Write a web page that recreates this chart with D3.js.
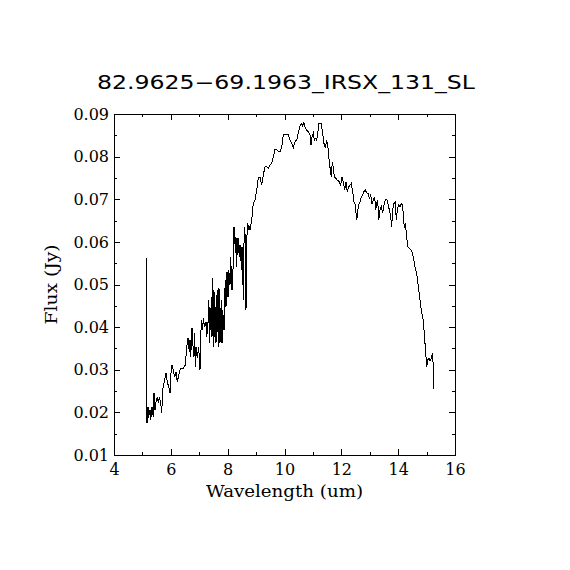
<!DOCTYPE html>
<html>
<head>
<meta charset="utf-8">
<script src="https://cdn.jsdelivr.net/npm/d3@7"></script>
<style>
  body { margin: 0; background: #fff; }
</style>
</head>
<body>
<script>

let wavelength = [
  5.144, 5.151, 5.161, 5.196, 5.214, 5.267, 5.292, 5.337, 5.383, 5.408,
  5.443, 5.478, 5.524, 5.559, 5.594, 5.643, 5.679, 5.714, 5.760, 5.805,
  5.830, 5.876, 5.925, 5.971, 6.006, 6.041, 6.087, 6.136, 6.182, 6.228,
  6.277, 6.323, 6.368, 6.418, 6.463, 6.509, 6.558, 6.604, 6.650, 6.675,
  6.699, 6.745, 6.770, 6.815, 6.840, 6.861, 6.886, 6.931, 6.981, 7.026,
  7.062, 7.086, 7.121, 7.143, 7.192, 7.238, 7.262, 7.308, 7.333, 7.354,
  7.378, 7.403, 7.424, 7.449, 7.473, 7.494, 7.519, 7.544, 7.565, 7.589,
  7.614, 7.635, 7.670, 7.695, 7.730, 7.755, 7.776, 7.801, 7.825, 7.871,
  7.896, 7.917, 7.941, 7.966, 7.987, 8.012, 8.036, 8.057, 8.082, 8.107,
  8.128, 8.153, 8.177, 8.198, 8.223, 8.247, 8.269, 8.293, 8.318, 8.339,
  8.364, 8.388, 8.409, 8.434, 8.459, 8.480, 8.504, 8.529, 8.550, 8.575,
  8.599, 8.621, 8.645, 8.670, 8.691, 8.716, 8.740, 8.761, 8.786,
  8.846, 8.902, 8.962, 9.022, 9.078, 9.138, 9.198, 9.254, 9.314, 9.374,
  9.430, 9.490, 9.550, 9.606, 9.666, 9.726, 9.782, 9.842, 9.902, 9.958,
  10.018, 10.078, 10.134, 10.194, 10.254, 10.310, 10.370, 10.429, 10.486, 10.546,
  10.605, 10.641, 10.686, 10.721, 10.781, 10.838, 10.897, 10.933, 10.968, 11.014,
  11.049, 11.084, 11.133, 11.168, 11.214, 11.284, 11.344, 11.390, 11.436, 11.485,
  11.531, 11.577, 11.612, 11.647, 11.682, 11.717, 11.753, 11.812, 11.858, 11.928,
  11.978, 12.023, 12.069, 12.118, 12.164, 12.210, 12.259, 12.305, 12.351, 12.400,
  12.446, 12.492, 12.541, 12.576, 12.611, 12.657, 12.703, 12.752, 12.798, 12.843,
  12.893, 12.938, 12.984, 13.033, 13.079, 13.125, 13.174, 13.209, 13.245, 13.280,
  13.315, 13.361, 13.407, 13.456, 13.502, 13.547, 13.597, 13.642, 13.688, 13.737,
  13.773, 13.808, 13.853, 13.899, 13.934, 13.970, 14.019, 14.065, 14.110, 14.145,
  14.181, 14.216, 14.251, 14.300, 14.335, 14.392, 14.462, 14.533, 14.592, 14.652,
  14.708, 14.768, 14.828, 14.885, 14.944, 15.004, 15.039, 15.085, 15.120, 15.166,
  15.215, 15.236, 15.261
]

let flux = [
  0.0562, 0.0276, 0.0175, 0.0213, 0.0187, 0.0206, 0.0182, 0.0213, 0.0189, 0.0245,
  0.0206, 0.0224, 0.0236, 0.0222, 0.0234, 0.0224, 0.0199, 0.0253, 0.0269, 0.0283,
  0.0292, 0.0271, 0.0260, 0.0245, 0.0292, 0.0311, 0.0299, 0.0283, 0.0295, 0.0271,
  0.0288, 0.0299, 0.0304, 0.0302, 0.0306, 0.0311, 0.0353, 0.0375, 0.0342, 0.0370,
  0.0330, 0.0398, 0.0363, 0.0330, 0.0386, 0.0306, 0.0353, 0.0328, 0.0353, 0.0299,
  0.0393, 0.0417, 0.0393, 0.0421, 0.0400, 0.0412, 0.0377, 0.0410, 0.0464, 0.0363,
  0.0447, 0.0393, 0.0471, 0.0377, 0.0515, 0.0353, 0.0487, 0.0377, 0.0447, 0.0363,
  0.0464, 0.0487, 0.0353, 0.0492, 0.0363, 0.0424, 0.0464, 0.0363, 0.0440, 0.0393,
  0.0471, 0.0511, 0.0447, 0.0527, 0.0527, 0.0471, 0.0534, 0.0522, 0.0499, 0.0565,
  0.0522, 0.0487, 0.0534, 0.0539, 0.0635, 0.0621, 0.0574, 0.0611, 0.0541, 0.0597,
  0.0609, 0.0586, 0.0565, 0.0593, 0.0576, 0.0534, 0.0588, 0.0541, 0.0464, 0.0597,
  0.0635, 0.0604, 0.0440, 0.0588, 0.0644, 0.0628, 0.0640, 0.0633, 0.0628,
  0.0651, 0.0691, 0.0698, 0.0722, 0.0750, 0.0752, 0.0733, 0.0757, 0.0776, 0.0776,
  0.0773, 0.0780, 0.0785, 0.0800, 0.0817, 0.0816, 0.0812, 0.0812, 0.0823, 0.0851,
  0.0853, 0.0853, 0.0851, 0.0839, 0.0831, 0.0820, 0.0835, 0.0839, 0.0855, 0.0872,
  0.0878, 0.0872, 0.0880, 0.0870, 0.0862, 0.0858, 0.0851, 0.0827, 0.0847, 0.0855,
  0.0839, 0.0843, 0.0839, 0.0855, 0.0878, 0.0878, 0.0855, 0.0831, 0.0820, 0.0839,
  0.0820, 0.0788, 0.0769, 0.0753, 0.0788, 0.0773, 0.0753, 0.0749, 0.0745, 0.0741,
  0.0733, 0.0753, 0.0741, 0.0722, 0.0741, 0.0718, 0.0729, 0.0733, 0.0737, 0.0718,
  0.0694, 0.0687, 0.0651, 0.0671, 0.0687, 0.0694, 0.0706, 0.0710, 0.0718, 0.0722,
  0.0715, 0.0714, 0.0702, 0.0710, 0.0690, 0.0698, 0.0706, 0.0675, 0.0690, 0.0698,
  0.0651, 0.0675, 0.0683, 0.0667, 0.0687, 0.0698, 0.0700, 0.0690, 0.0675, 0.0659,
  0.0636, 0.0675, 0.0690, 0.0694, 0.0651, 0.0675, 0.0687, 0.0683, 0.0690, 0.0687,
  0.0667, 0.0632, 0.0644, 0.0612, 0.0589, 0.0585, 0.0581, 0.0565, 0.0542, 0.0526,
  0.0495, 0.0464, 0.0433, 0.0417, 0.0362, 0.0307, 0.0323, 0.0327, 0.0321, 0.0327,
  0.0340, 0.0299, 0.0256
]

let xTicks = [4, 6, 8, 10, 12, 14, 16]
let xMinorTicks = [5, 7, 9, 11, 13, 15]
let yTicks = [0.01, 0.02, 0.03, 0.04, 0.05, 0.06, 0.07, 0.08, 0.09]
let yMinorTicks = [0.015, 0.025, 0.035, 0.045, 0.055, 0.065, 0.075, 0.085]

let title = '82.9625\u221269.1963_IRSX_131_SL'
let xLabel = 'Wavelength (um)'
let yLabel = 'Flux (Jy)'

let
  width = 570,
  height = 570

let margin = {
  top: 114,
  bottom: 115,
  left: 114,
  right: 115
}

let chartWidth = width - margin.left - margin.right
let chartHeight = height - margin.top - margin.bottom

let svg = d3.select('body')
  .append('svg')
  .attr('width', width)
  .attr('height', height)
  .style('background', '#fff')

let x = d3.scaleLinear()
  .domain([4, 16])
  .range([0, chartWidth])

let y = d3.scaleLinear()
  .domain([0.01, 0.09])
  .range([chartHeight, 0])

let chart = svg.append('g')
  .attr('transform', `translate(${margin.left}, ${margin.top})`)

let labelFont = '"DejaVu Serif", serif'

// major + minor ticks on all four sides, pointing inward
function styleAxis(g) {
  g.select('.domain').remove()
  g.selectAll('line').attr('stroke', '#000').attr('shape-rendering', 'crispEdges')
  g.selectAll('text')
    .attr('fill', '#000')
    .style('font-family', labelFont)
    .style('font-size', '16px')
}

chart.append('g')
  .attr('transform', `translate(0, ${chartHeight})`)
  .call(d3.axisBottom(x).tickValues(xTicks).tickSize(-6).tickPadding(9).tickFormat(d3.format('d')))
  .call(styleAxis)

chart.append('g')
  .attr('transform', `translate(0, ${chartHeight})`)
  .call(d3.axisBottom(x).tickValues(xMinorTicks).tickSize(-3).tickFormat(''))
  .call(styleAxis)

chart.append('g')
  .call(d3.axisTop(x).tickValues(xTicks).tickSize(-6).tickFormat(''))
  .call(styleAxis)

chart.append('g')
  .call(d3.axisTop(x).tickValues(xMinorTicks).tickSize(-3).tickFormat(''))
  .call(styleAxis)

chart.append('g')
  .call(d3.axisLeft(y).tickValues(yTicks).tickSize(-6).tickPadding(5).tickFormat(d3.format('.2f')))
  .call(styleAxis)

chart.append('g')
  .call(d3.axisLeft(y).tickValues(yMinorTicks).tickSize(-3).tickFormat(''))
  .call(styleAxis)

chart.append('g')
  .attr('transform', `translate(${chartWidth}, 0)`)
  .call(d3.axisRight(y).tickValues(yTicks).tickSize(-6).tickFormat(''))
  .call(styleAxis)

chart.append('g')
  .attr('transform', `translate(${chartWidth}, 0)`)
  .call(d3.axisRight(y).tickValues(yMinorTicks).tickSize(-3).tickFormat(''))
  .call(styleAxis)

chart.append('rect')
  .attr('x', 0.5)
  .attr('y', 0.5)
  .attr('width', chartWidth)
  .attr('height', chartHeight)
  .attr('fill', 'none')
  .attr('stroke', '#000')
  .attr('stroke-width', 1)
  .attr('shape-rendering', 'crispEdges')

let points = wavelength.map((w, i) => [w, flux[i]])

let line = d3.line()
  .x(d => x(d[0]))
  .y(d => y(d[1]))

chart.append('path')
  .datum(points)
  .attr('d', line)
  .attr('fill', 'none')
  .attr('stroke', '#000')
  .attr('stroke-width', 1)
  .attr('shape-rendering', 'crispEdges')

svg.append('text')
  .attr('x', 286)
  .attr('y', 89)
  .attr('text-anchor', 'middle')
  .attr('textLength', 378)
  .attr('lengthAdjust', 'spacingAndGlyphs')
  .style('font-family', '"DejaVu Sans", sans-serif')
  .style('font-size', '19px')
  .text(title)

svg.append('text')
  .attr('x', margin.left + chartWidth / 2)
  .attr('y', 497)
  .attr('text-anchor', 'middle')
  .attr('textLength', 157)
  .attr('lengthAdjust', 'spacingAndGlyphs')
  .style('font-family', labelFont)
  .style('font-size', '16px')
  .text(xLabel)

svg.append('text')
  .attr('transform', `translate(57, ${margin.top + chartHeight / 2}) rotate(-90)`)
  .attr('text-anchor', 'middle')
  .attr('textLength', 80)
  .attr('lengthAdjust', 'spacingAndGlyphs')
  .style('font-family', labelFont)
  .style('font-size', '16px')
  .text(yLabel)

</script>
</body>
</html>
